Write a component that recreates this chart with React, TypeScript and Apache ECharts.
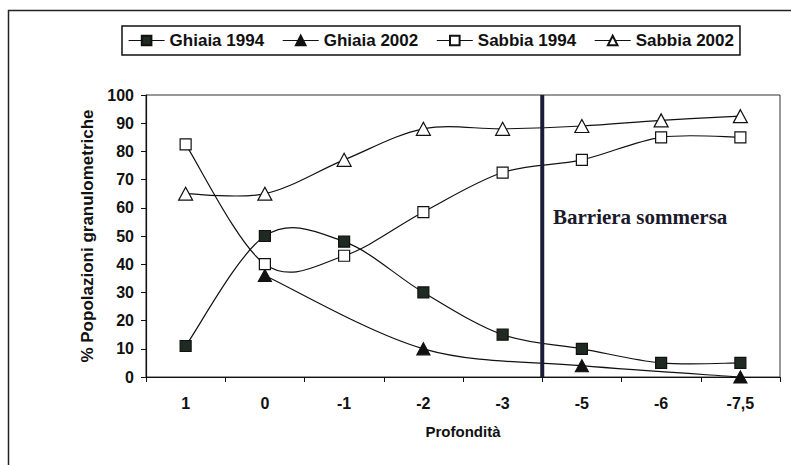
import React, { useEffect, useRef } from "react";
import * as echarts from "echarts";

const categories = ["1", "0", "-1", "-2", "-3", "-5", "-6", "-7,5"];
const ghiaia1994 = [11, 50, 48, 30, 15, 10, 5, 5];
const ghiaia2002 = [null, 36, null, 10, null, 4, null, 0];
const sabbia1994 = [82.5, 40, 43, 58.5, 72.5, 77, 85, 85];
const sabbia2002 = [65, 65, 77, 88, 88, 89, 91, 92.5];
const yTicks = { min: 0, max: 100, interval: 10 };
const barrierPosition = 5; // boundary between "-3" and "-5"
const barrierLabel = "Barriera sommersa";
const xName = "Profondità";
const yName = "% Popolazioni granulometriche";

type Pt = [number, number];

function smoothPath(pts: Pt[]): string {
  if (pts.length === 0) return "";
  let d = `M${pts[0][0]},${pts[0][1]}`;
  for (let i = 0; i < pts.length - 1; i++) {
    const p0 = pts[i - 1] || pts[i];
    const p1 = pts[i];
    const p2 = pts[i + 1];
    const p3 = pts[i + 2] || pts[i + 1];
    const c1x = p1[0] + (p2[0] - p0[0]) / 6;
    const c1y = p1[1] + (p2[1] - p0[1]) / 6;
    const c2x = p2[0] - (p3[0] - p1[0]) / 6;
    const c2y = p2[1] - (p3[1] - p1[1]) / 6;
    d += ` C${c1x},${c1y} ${c2x},${c2y} ${p2[0]},${p2[1]}`;
  }
  return d;
}

export default function App() {
  const ref = useRef<HTMLDivElement>(null);
  useEffect(() => {
    if (!ref.current) return;
    const chart = echarts.init(ref.current, undefined, { renderer: "svg" });
    const font = "Arial, 'Liberation Sans', sans-serif";

    const curve = (name: string, values: (number | null)[]) => {
      const pairs = values
        .map((v, i) => (v === null ? null : [i, v]))
        .filter((p) => p !== null) as Pt[];
      return {
        name: name + " curve",
        type: "custom",
        coordinateSystem: "cartesian2d",
        xAxisIndex: 0,
        yAxisIndex: 0,
        data: pairs,
        encode: { x: 0, y: 1 },
        silent: true,
        z: 2,
        renderItem: (params: any, api: any) => {
          if (params.dataIndex !== 0) return { type: "group", children: [] };
          const pts = pairs.map((p) => api.coord(p) as Pt);
          return {
            type: "path",
            shape: { pathData: smoothPath(pts) },
            style: { stroke: "#111", lineWidth: 1.2, fill: "none" },
          };
        },
      };
    };

    const mk = (
      name: string,
      data: (number | null)[],
      symbol: string,
      size: number | number[],
      fill: string
    ) => ({
      name,
      type: "line",
      data,
      connectNulls: true,
      symbol,
      symbolSize: size,
      showAllSymbol: true,
      lineStyle: { color: "#111", width: 0, opacity: 0 },
      itemStyle: { color: fill, borderColor: "#111", borderWidth: 1.2 },
      z: 3,
    });

    chart.setOption({
      animation: false,
      backgroundColor: "#fff",
      textStyle: { fontFamily: font },
      grid: {
        left: 146,
        top: 95,
        right: 11,
        bottom: 88,
        show: true,
        borderColor: "#333",
        borderWidth: 1,
        backgroundColor: "transparent",
      },
      legend: {
        data: ["Ghiaia 1994", "Ghiaia 2002", "Sabbia 1994", "Sabbia 2002"],
        left: 122,
        top: 26,
        padding: [6, 6],
        itemGap: 18,
        itemWidth: 36,
        itemHeight: 12,
        borderColor: "#111",
        borderWidth: 1.5,
        lineStyle: { color: "#111", width: 1.2, opacity: 1 },
        textStyle: { fontFamily: font, fontWeight: "bold", fontSize: 17, color: "#111" },
      },
      xAxis: [
        {
          type: "category",
          data: categories,
          boundaryGap: true,
          name: xName,
          nameLocation: "middle",
          nameGap: 47,
          nameTextStyle: { fontFamily: font, fontWeight: "bold", fontSize: 15, color: "#111" },
          axisLine: { lineStyle: { color: "#111", width: 1.2 } },
          axisTick: { show: true, inside: false, length: 5, lineStyle: { color: "#111" } },
          axisLabel: { margin: 18, fontFamily: font, fontWeight: "bold", fontSize: 16, color: "#111" },
          splitLine: { show: false },
        },
        {
          type: "value",
          min: 0,
          max: categories.length,
          show: false,
        },
      ],
      yAxis: {
        type: "value",
        min: yTicks.min,
        max: yTicks.max,
        interval: yTicks.interval,
        name: yName,
        nameLocation: "middle",
        nameGap: 50,
        nameRotate: 90,
        nameTextStyle: { fontFamily: font, fontWeight: "bold", fontSize: 17, color: "#111" },
        axisLine: { show: true, lineStyle: { color: "#111", width: 1.2 } },
        axisTick: { show: true, inside: false, length: 5, lineStyle: { color: "#111" } },
        axisLabel: { margin: 12, fontFamily: font, fontWeight: "bold", fontSize: 16, color: "#111" },
        splitLine: { show: false },
      },
      series: [
        curve("Ghiaia 1994", ghiaia1994),
        curve("Ghiaia 2002", ghiaia2002),
        curve("Sabbia 1994", sabbia1994),
        curve("Sabbia 2002", sabbia2002),
        mk("Ghiaia 1994", ghiaia1994, "rect", 11, "#1f2a22"),
        mk("Ghiaia 2002", ghiaia2002, "triangle", [13, 12], "#111"),
        mk("Sabbia 1994", sabbia1994, "rect", 11, "#fff"),
        mk("Sabbia 2002", sabbia2002, "triangle", [14, 13], "#fff"),
        {
          name: "barrier",
          type: "line",
          xAxisIndex: 1,
          data: [
            [barrierPosition, yTicks.min],
            [barrierPosition, yTicks.max],
          ],
          symbol: "none",
          lineStyle: { color: "#1b1b3a", width: 4 },
          z: 5,
          silent: true,
        },
      ],
      graphic: [
        {
          type: "rect",
          shape: { x: 8.5, y: 10.5, width: 900, height: 600 },
          style: { fill: "none", stroke: "#222", lineWidth: 1.5 },
          z: -1,
        },
        {
          type: "text",
          x: 553,
          y: 217,
          style: {
            text: barrierLabel,
            font: "bold 21px 'Liberation Serif', serif",
            fill: "#1a1a2a",
            verticalAlign: "middle",
            align: "left",
          },
        },
      ],
    });
    return () => chart.dispose();
  }, []);
  return (
    <div
      ref={ref}
      style={{ position: "fixed", left: 0, top: 0, width: 791, height: 465, background: "#fff" }}
    />
  );
}
